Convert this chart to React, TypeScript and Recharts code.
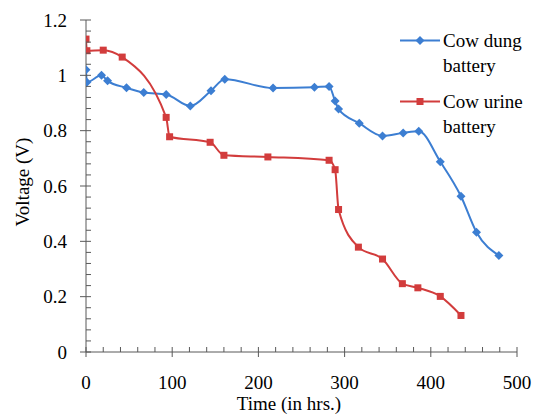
import { LineChart, Line, XAxis, YAxis, Legend, Label } from "recharts";

// Cow dung battery: time (hrs) and voltage (V)
const DUNG_TIME = [0, 1, 18, 25, 47, 67, 93, 121, 145, 161, 217, 265, 282, 289, 293, 317, 344, 368, 386, 411, 435, 453, 479];
const DUNG_VOLT = [1.02, 0.975, 1.0, 0.98, 0.955, 0.938, 0.931, 0.889, 0.944, 0.986, 0.954, 0.957, 0.96, 0.907, 0.878, 0.827, 0.781, 0.792, 0.798, 0.688, 0.563, 0.433, 0.349];

// Cow urine battery
const URINE_TIME = [0, 1, 20, 42, 93, 97, 144, 160, 211, 282, 289, 293, 316, 344, 367, 385, 411, 435];
const URINE_VOLT = [1.131, 1.089, 1.091, 1.066, 0.848, 0.778, 0.758, 0.711, 0.705, 0.693, 0.659, 0.515, 0.379, 0.336, 0.247, 0.232, 0.201, 0.132];

const X_TICKS = [0, 20, 40, 60, 80, 100, 120, 140, 160, 180, 200, 220, 240, 260, 280, 300, 320, 340, 360, 380, 400, 420, 440, 460, 480, 500];
const X_LABELS = [0, 100, 200, 300, 400, 500];
const Y_TICKS = [0, 0.04, 0.08, 0.12, 0.16, 0.2, 0.24, 0.28, 0.32, 0.36, 0.4, 0.44, 0.48, 0.52, 0.56, 0.6, 0.64, 0.68, 0.72, 0.76, 0.8, 0.84, 0.88, 0.92, 0.96, 1, 1.04, 1.08, 1.12, 1.16, 1.2];
const Y_LABELS = [0, 0.2, 0.4, 0.6, 0.8, 1, 1.2];

const BLUE = "#3C7ED2";
const RED = "#D23C3C";
const AXIS = "#595959";
const FONT = "Liberation Serif, Tinos, Times New Roman, DejaVu Serif, serif";
const FS = 19;

const SERIES = [
  { name: "Cow dung battery", color: BLUE, shape: "diamond" },
  { name: "Cow urine battery", color: RED, shape: "square" },
];

const dungData = DUNG_TIME.map((t, i) => ({ t, v: DUNG_VOLT[i] }));
const urineData = URINE_TIME.map((t, i) => ({ t, v: URINE_VOLT[i] }));

const X_TICK_SIZE = 5;
const X_TICK_MARGIN = 18;
const Y_TICK_SIZE = 6;
const Y_TICK_MARGIN = 13;

function Marker({ cx, cy, shape, color }: { cx: number; cy: number; shape: string; color: string }) {
  if (shape === "square") {
    return <rect x={cx - 3.5} y={cy - 3.5} width={7} height={7} fill={color} />;
  }
  const r = 4.5;
  return <polygon points={`${cx},${cy - r} ${cx + r},${cy} ${cx},${cy + r} ${cx - r},${cy}`} fill={color} />;
}

function XTick(props: any) {
  const { x, y, payload } = props;
  const axisY = y - X_TICK_SIZE - X_TICK_MARGIN;
  const major = X_LABELS.includes(payload.value);
  return (
    <g>
      <line x1={x} x2={x} y1={axisY - 5} y2={major ? axisY + 5 : axisY} stroke={AXIS} />
      {major && (
        <text x={x} y={y} dy="0.74em" textAnchor="middle" fontSize={FS} style={{ fontFamily: FONT }} fill="#000">
          {payload.value}
        </text>
      )}
    </g>
  );
}

function YTick(props: any) {
  const { x, y, payload } = props;
  const axisX = x + Y_TICK_SIZE + Y_TICK_MARGIN;
  const major = Y_LABELS.includes(payload.value);
  return (
    <g>
      <line x1={major ? axisX - 6 : axisX} x2={axisX + 5} y1={y} y2={y} stroke={AXIS} />
      {major && (
        <text x={x} y={y} dy="0.355em" textAnchor="end" fontSize={FS} style={{ fontFamily: FONT }} fill="#000">
          {payload.value}
        </text>
      )}
    </g>
  );
}

function LegendContent() {
  return (
    <div style={{ fontFamily: FONT, fontSize: FS, color: "#000" }}>
      {SERIES.map((s, i) => (
        <div key={s.name} style={{ display: "flex", alignItems: "flex-start", marginTop: i ? 11 : 0 }}>
          <svg width={43} height={25} style={{ flex: "none" }}>
            <line x1={0} x2={40} y1={12.5} y2={12.5} stroke={s.color} strokeWidth={2} />
            <Marker cx={20} cy={12.5} shape={s.shape} color={s.color} />
          </svg>
          <div style={{ width: 94, lineHeight: "25px" }}>{s.name}</div>
        </div>
      ))}
    </div>
  );
}

export default function App() {
  return (
    <div style={{ position: "absolute", left: 0, top: 0, width: 537, height: 416, background: "#fff", fontFamily: FONT }}>
      <LineChart width={537} height={416} data={dungData} margin={{ top: 20, right: 20, bottom: 0, left: 0 }} style={{ fontFamily: FONT }}>
        <XAxis
          dataKey="t"
          type="number"
          domain={[0, 500]}
          ticks={X_TICKS}
          interval={0}
          height={64}
          stroke={AXIS}
          tickLine={false}
          tickSize={X_TICK_SIZE}
          tickMargin={X_TICK_MARGIN}
          tick={<XTick />}
          allowDataOverflow
        >
          <Label
            content={() => (
              <text x={289} y={403} textAnchor="middle" dominantBaseline="central" fontSize={FS} style={{ fontFamily: FONT }} fill="#000">
                Time (in hrs.)
              </text>
            )}
          />
        </XAxis>
        <YAxis
          type="number"
          domain={[0, 1.2]}
          ticks={Y_TICKS}
          interval={0}
          width={86}
          stroke={AXIS}
          tickLine={false}
          tickSize={Y_TICK_SIZE}
          tickMargin={Y_TICK_MARGIN}
          tick={<YTick />}
          allowDataOverflow
        >
          <Label
            content={() => (
              <text x={22} y={182} transform="rotate(-90 22 182)" textAnchor="middle" dominantBaseline="central" fontSize={FS} style={{ fontFamily: FONT }} fill="#000">
                Voltage (V)
              </text>
            )}
          />
        </YAxis>
        <Legend
          layout="vertical"
          align="center"
          verticalAlign="middle"
          content={<LegendContent />}
          wrapperStyle={{ left: 400, top: 28, width: 137 }}
        />
        <Line
          data={dungData}
          dataKey="v"
          name="Cow dung battery"
          type="monotone"
          stroke={BLUE}
          strokeWidth={2}
          dot={(p: any) => <Marker key={`d${p.index}`} cx={p.cx} cy={p.cy} shape="diamond" color={BLUE} />}
          activeDot={false}
          isAnimationActive={false}
        />
        <Line
          data={urineData}
          dataKey="v"
          name="Cow urine battery"
          type="monotone"
          stroke={RED}
          strokeWidth={2}
          dot={(p: any) => <Marker key={`u${p.index}`} cx={p.cx} cy={p.cy} shape="square" color={RED} />}
          activeDot={false}
          isAnimationActive={false}
        />
      </LineChart>
    </div>
  );
}
